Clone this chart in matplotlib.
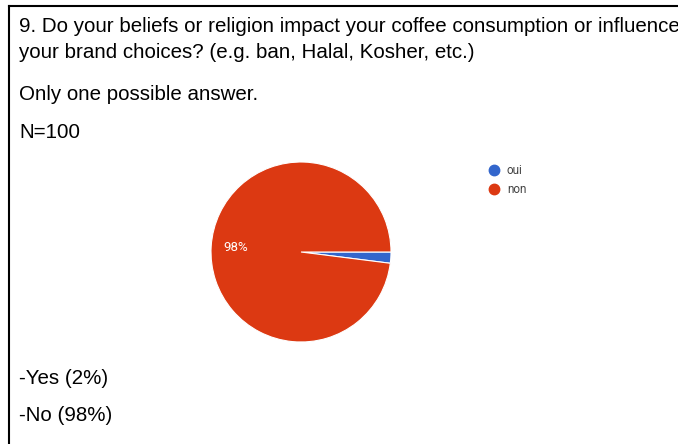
import matplotlib.pyplot as plt
from matplotlib.lines import Line2D

plt.rcParams['font.family'] = ['Liberation Sans', 'DejaVu Sans']

labels = ["oui", "non"]
shares = [2, 98]
colors = ["#3366CC", "#DC3912"]

question = ["9. Do your beliefs or religion impact your coffee consumption or influence",
            "your brand choices? (e.g. ban, Halal, Kosher, etc.)"]
note = "Only one possible answer."
sample = "N=100"
answers = ["-Yes (2%)", "-No (98%)"]

W, H = 678, 444
fig = plt.figure(figsize=(W / 100, H / 100), dpi=100)


def px(x, y):
    return x / W, 1 - y / H


# frame lines along the top and left
fig.add_artist(Line2D([9 / W, 1], [1 - 6 / H, 1 - 6 / H], color="black", lw=1.5))
fig.add_artist(Line2D([9 / W, 9 / W], [0, 1 - 6 / H], color="black", lw=1.5))

fs = 14.8
for i, line in enumerate(question):
    fig.text(*px(19, 27 + 25 * i), line, fontsize=fs, va="center", ha="left")
fig.text(*px(19, 95), note, fontsize=fs, va="center")
fig.text(*px(19, 132), sample, fontsize=fs, va="center")
for i, a in enumerate(answers):
    fig.text(*px(19, 378 + 37 * i), a, fontsize=fs, va="center")

# pie
cx, cy, r = 301, 252, 90
ax = fig.add_axes([(cx - r) / W, 1 - (cy + r) / H, 2 * r / W, 2 * r / H])
wedges, texts, autotexts = ax.pie(
    shares, colors=colors, startangle=0, counterclock=False,
    autopct=lambda p: f"{p:.0f}%" if p > 5 else "", pctdistance=0.73,
    wedgeprops=dict(edgecolor="white", linewidth=0.8),
    textprops=dict(color="white", fontsize=9.5, family="Roboto"))
ax.set_xlim(-1, 1)
ax.set_ylim(-1, 1)
ax.set_aspect("equal")

# legend
handles = [Line2D([], [], marker="o", ls="", color=c, markersize=7.5) for c in colors]
fig.legend(handles, labels, loc="upper left", bbox_to_anchor=px(481, 158),
           frameon=False, handletextpad=0.5, labelspacing=0.52,
           labelcolor="#444444", borderpad=0, handlelength=1.2,
           prop=dict(family="Roboto", size=8.5))

fig.savefig("out.png", dpi=100)
